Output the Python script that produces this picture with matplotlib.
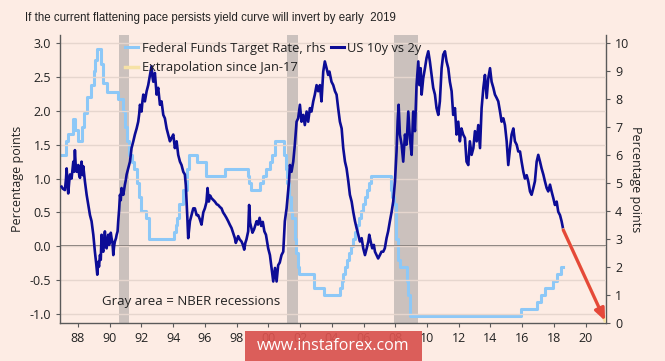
import matplotlib
matplotlib.use("Agg")
import matplotlib.pyplot as plt
from matplotlib.patches import Rectangle
from matplotlib.lines import Line2D

# US 10y vs 2y spread (percentage points)
spread_years = [1986.97, 1987.05, 1987.18, 1987.25, 1987.29, 1987.35, 1987.39, 1987.45, 1987.50, 1987.60,
                1987.71, 1987.76, 1987.81, 1987.86, 1987.92, 1988.02, 1988.08, 1988.13, 1988.18, 1988.23,
                1988.30, 1988.34, 1988.44, 1988.55, 1988.65, 1988.76, 1988.86, 1988.97, 1989.07, 1989.15,
                1989.22, 1989.28, 1989.33, 1989.39, 1989.44, 1989.49, 1989.55, 1989.60, 1989.65, 1989.70,
                1989.75, 1989.81, 1989.86, 1989.91, 1989.96, 1990.02, 1990.07, 1990.12, 1990.18, 1990.23,
                1990.28, 1990.33, 1990.40, 1990.44, 1990.50, 1990.54, 1990.60, 1990.65, 1990.70, 1990.75,
                1990.80, 1990.86, 1990.96, 1991.02, 1991.07, 1991.17, 1991.28, 1991.33, 1991.38, 1991.49,
                1991.59, 1991.70, 1991.80, 1991.86, 1991.91, 1992.01, 1992.07, 1992.12, 1992.22, 1992.33,
                1992.43, 1992.54, 1992.64, 1992.70, 1992.75, 1992.85, 1992.96, 1993.06, 1993.17, 1993.27,
                1993.38, 1993.48, 1993.59, 1993.69, 1993.80, 1993.90, 1994.01, 1994.11, 1994.22, 1994.32,
                1994.43, 1994.53, 1994.64, 1994.74, 1994.80, 1994.85, 1994.90, 1994.95, 1995.06, 1995.16,
                1995.27, 1995.37, 1995.48, 1995.58, 1995.68, 1995.79, 1995.90, 1996.00, 1996.10, 1996.17,
                1996.25, 1996.33, 1996.42, 1996.55, 1996.63, 1996.75, 1996.84, 1996.95, 1997.05, 1997.15,
                1997.26, 1997.36, 1997.47, 1997.57, 1997.68, 1997.78, 1997.89, 1997.95, 1998.00, 1998.10,
                1998.20, 1998.31, 1998.40, 1998.48, 1998.55, 1998.62, 1998.73, 1998.79, 1998.85, 1998.90,
                1999.00, 1999.10, 1999.26, 1999.35, 1999.45, 1999.55, 1999.65, 1999.75, 1999.85, 1999.99,
                2000.10, 2000.20, 2000.31, 2000.42, 2000.52, 2000.62, 2000.72, 2000.83, 2000.94, 2001.04,
                2001.15, 2001.25, 2001.30, 2001.36, 2001.46, 2001.57, 2001.67, 2001.78, 2001.88, 2001.99,
                2002.09, 2002.20, 2002.30, 2002.41, 2002.51, 2002.62, 2002.72, 2002.83, 2002.93, 2003.04,
                2003.14, 2003.25, 2003.35, 2003.46, 2003.56, 2003.67, 2003.77, 2003.85, 2003.98, 2004.09,
                2004.20, 2004.30, 2004.40, 2004.51, 2004.62, 2004.72, 2004.83, 2004.93, 2005.04, 2005.14,
                2005.25, 2005.35, 2005.46, 2005.56, 2005.67, 2005.77, 2005.88, 2005.98, 2006.09, 2006.20,
                2006.30, 2006.36, 2006.45, 2006.55, 2006.65, 2006.72, 2006.82, 2006.92, 2007.03, 2007.13,
                2007.24, 2007.34, 2007.45, 2007.55, 2007.66, 2007.77, 2007.87, 2007.98, 2008.08, 2008.15,
                2008.21, 2008.29, 2008.40, 2008.50, 2008.61, 2008.71, 2008.82, 2008.92, 2009.03, 2009.13,
                2009.24, 2009.34, 2009.45, 2009.52, 2009.60, 2009.66, 2009.76, 2009.87, 2009.97, 2010.08,
                2010.18, 2010.29, 2010.39, 2010.50, 2010.60, 2010.71, 2010.81, 2010.92, 2011.02, 2011.13,
                2011.23, 2011.34, 2011.44, 2011.55, 2011.65, 2011.76, 2011.86, 2011.97, 2012.07, 2012.17,
                2012.28, 2012.39, 2012.49, 2012.60, 2012.70, 2012.81, 2012.92, 2013.02, 2013.13, 2013.23,
                2013.34, 2013.44, 2013.55, 2013.65, 2013.76, 2013.86, 2013.97, 2014.07, 2014.18, 2014.28,
                2014.39, 2014.49, 2014.60, 2014.70, 2014.81, 2014.91, 2015.02, 2015.12, 2015.23, 2015.33,
                2015.44, 2015.54, 2015.65, 2015.75, 2015.86, 2015.96, 2016.07, 2016.17, 2016.28, 2016.38,
                2016.49, 2016.59, 2016.70, 2016.80, 2016.91, 2017.01, 2017.12, 2017.22, 2017.33, 2017.43,
                2017.54, 2017.64, 2017.75, 2017.85, 2017.96, 2018.06, 2018.17, 2018.27, 2018.38, 2018.48,
                2018.59]
spread_vals = [0.88, 0.85, 0.83, 1.00, 1.15, 0.90, 0.78, 0.95, 1.06, 1.00,
               1.25, 1.10, 1.42, 1.20, 1.10, 1.20, 1.05, 1.01, 1.15, 1.25,
               1.05, 1.18, 0.96, 0.76, 0.62, 0.46, 0.37, 0.17, -0.08, -0.25,
               -0.42, -0.23, -0.30, -0.13, -0.20, 0.17, -0.05, -0.08, 0.05, 0.22,
               0.00, -0.03, 0.10, 0.17, 0.02, 0.07, 0.20, 0.12, 0.05, -0.13,
               0.00, 0.07, 0.12, 0.17, 0.22, 0.37, 0.55, 0.76, 0.68, 0.86,
               0.80, 0.76, 0.91, 0.98, 1.06, 1.15, 1.25, 1.35, 1.45, 1.55,
               1.65, 1.74, 1.84, 1.95, 2.09, 1.99, 2.15, 2.24, 2.14, 2.29,
               2.38, 2.53, 2.66, 2.50, 2.43, 2.56, 2.24, 2.34, 2.09, 2.14,
               1.94, 1.89, 1.74, 1.65, 1.55, 1.60, 1.65, 1.45, 1.55, 1.35,
               1.25, 1.20, 1.10, 1.06, 0.90, 0.66, 0.40, 0.12, 0.37, 0.46,
               0.56, 0.56, 0.46, 0.46, 0.40, 0.32, 0.50, 0.56, 0.65, 0.86,
               0.66, 0.75, 0.71, 0.68, 0.66, 0.62, 0.61, 0.58, 0.56, 0.50,
               0.46, 0.42, 0.37, 0.32, 0.27, 0.20, 0.12, 0.05, 0.08, 0.15,
               0.10, 0.07, 0.02, -0.05, 0.05, 0.10, 0.22, 0.61, 0.35, 0.30,
               0.20, 0.25, 0.37, 0.32, 0.42, 0.30, 0.36, 0.22, 0.17, -0.03,
               -0.13, -0.32, -0.52, -0.32, -0.52, -0.28, -0.24, -0.13, -0.08, 0.37,
               0.56, 0.81, 0.95, 1.20, 1.10, 1.25, 1.50, 1.84, 1.89, 2.09,
               1.84, 1.94, 1.79, 1.99, 1.84, 2.04, 1.99, 2.14, 2.24, 2.38,
               2.29, 2.38, 2.14, 2.58, 2.73, 2.63, 2.53, 2.58, 2.43, 2.38,
               2.29, 2.24, 2.04, 1.84, 1.74, 1.45, 1.25, 1.15, 0.96, 0.76,
               0.66, 0.51, 0.37, 0.27, 0.17, 0.07, 0.12, -0.03, -0.13, -0.03,
               0.07, 0.17, 0.07, -0.03, 0.02, -0.08, -0.13, -0.18, -0.13, -0.08,
               -0.08, -0.03, 0.12, 0.22, 0.37, 0.51, 0.66, 0.96, 1.40, 1.85,
               2.09, 1.65, 1.50, 1.25, 1.65, 1.50, 1.99, 1.60, 1.35, 1.99,
               1.70, 2.38, 2.73, 2.38, 2.63, 2.24, 2.48, 2.63, 2.78, 2.88,
               2.73, 2.53, 2.34, 2.24, 2.04, 1.94, 2.14, 2.63, 2.83, 2.88,
               2.73, 2.63, 2.43, 2.29, 1.94, 2.04, 1.65, 1.84, 1.55, 1.74,
               1.65, 1.60, 1.25, 1.20, 1.55, 1.35, 1.45, 1.70, 1.55, 1.79,
               1.45, 2.04, 2.34, 2.53, 2.19, 2.48, 2.63, 2.43, 2.34, 2.24,
               2.19, 2.14, 1.99, 1.84, 1.89, 1.79, 1.55, 1.20, 1.45, 1.65,
               1.74, 1.55, 1.50, 1.40, 1.40, 1.25, 1.10, 1.00, 1.05, 0.96,
               0.81, 0.76, 0.86, 0.96, 1.25, 1.35, 1.25, 1.15, 1.06, 0.96,
               0.86, 0.81, 0.91, 0.81, 0.71, 0.61, 0.66, 0.51, 0.46, 0.37,
               0.24]

# Federal funds target rate (rhs), step changes
fed_years = [1987.0, 1987.25, 1987.4, 1987.7, 1987.8, 1988.0, 1988.25, 1988.4, 1988.55, 1988.85,
             1989.0, 1989.1, 1989.2, 1989.45, 1989.55, 1989.85, 1990.5, 1990.85, 1990.95, 1991.1,
             1991.25, 1991.4, 1991.55, 1991.7, 1991.85, 1992.0, 1992.3, 1992.5, 1994.05, 1994.15,
             1994.25, 1994.35, 1994.6, 1994.85, 1995.0, 1995.5, 1996.05, 1997.25, 1998.72, 1998.8,
             1998.88, 1999.5, 1999.65, 1999.85, 2000.1, 2000.2, 2000.4, 2001.0, 2001.1, 2001.2,
             2001.3, 2001.4, 2001.5, 2001.7, 2001.75, 2001.85, 2001.95, 2002.85, 2003.5, 2004.5,
             2004.62, 2004.7, 2004.85, 2004.95, 2005.1, 2005.2, 2005.35, 2005.45, 2005.6, 2005.7,
             2005.85, 2005.95, 2006.1, 2006.2, 2006.35, 2006.45, 2007.7, 2007.8, 2007.95, 2008.05,
             2008.2, 2008.3, 2008.75, 2008.8, 2008.95, 2015.95, 2016.95, 2017.2, 2017.45, 2017.95,
             2018.2, 2018.45, 2018.55]
fed_rate = [6.0, 6.5, 6.75, 7.3, 6.9, 6.5, 7.0, 7.5, 8.1, 8.5,
            9.0, 9.4, 9.8, 9.25, 8.6, 8.25, 8.0, 7.6, 7.0, 6.5,
            6.0, 5.75, 5.5, 5.0, 4.5, 4.0, 3.75, 3.0, 3.25, 3.5,
            3.75, 4.25, 4.75, 5.5, 6.0, 5.75, 5.25, 5.5, 5.25, 5.0,
            4.75, 5.0, 5.25, 5.5, 5.75, 6.0, 6.5, 6.0, 5.5, 5.0,
            4.5, 4.0, 3.75, 3.0, 2.5, 2.0, 1.75, 1.25, 1.0, 1.25,
            1.5, 1.75, 2.0, 2.25, 2.5, 2.75, 3.0, 3.25, 3.5, 3.75,
            4.0, 4.25, 4.5, 4.75, 5.0, 5.25, 4.75, 4.5, 4.25, 3.0,
            2.25, 2.0, 1.5, 1.0, 0.25, 0.5, 0.75, 1.0, 1.25, 1.5,
            1.75, 2.0, 2.0]

# NBER recessions
recessions = [(1990.6, 1991.2), (2001.17, 2001.84), (2007.93, 2009.43)]

# extrapolation arrow (start at last spread point)
extrap_x = [2018.59, 2021.22]
extrap_y = [0.24, -1.10]

xtick_years = list(range(1988, 2021, 2))
left_ticks = [-1.0, -0.5, 0.0, 0.5, 1.0, 1.5, 2.0, 2.5, 3.0]
right_ticks = list(range(0, 11))

bg = "#fdece4"
navy = "#0c0c96"
light = "#8dc8f7"
txt = "#222222"
spine_c = "#5a5a5a"

plt.rcParams['font.family'] = ['Open Sans', 'DejaVu Sans']

fig = plt.figure(figsize=(6.65, 3.61), dpi=100, facecolor=bg)
ax2 = fig.add_axes([0.0902, 0.1053, 0.8211, 0.7977])
ax = ax2.twinx()
# spread axis drawn on top of the fed funds axis
ax2.set_zorder(1)
ax.set_zorder(2)
ax.patch.set_visible(False)
ax2.patch.set_visible(False)

ax.yaxis.tick_left()
ax.yaxis.set_label_position("left")
ax2.yaxis.tick_right()
ax2.yaxis.set_label_position("right")

for a0, a1 in recessions:
    ax2.axvspan(a0, a1, color="#cbc1bd", zorder=0, lw=0)

ax2.plot(fed_years, fed_rate, drawstyle="steps-post", color=light, lw=2.2, zorder=2)
ax2.set_ylim(0, 10.3)
ax2.set_yticks(right_ticks)

ax.set_ylim(-1.133, 3.12)
ax.set_yticks(left_ticks)
ax.set_yticklabels([f"{v:.1f}" for v in left_ticks])
ax.grid(axis="y", color="#e6d6ce", lw=1.0, zorder=0)
ax.axhline(0, color="#7a7470", lw=1.4, zorder=1)

ax.plot(spread_years, spread_vals, color=navy, lw=1.9, zorder=3)
ax.plot(extrap_x, extrap_y, color="#f6e2a6", lw=2.5, zorder=3)
ax.annotate("", xy=(extrap_x[1], extrap_y[1]), xytext=(extrap_x[0], extrap_y[0]),
            arrowprops=dict(arrowstyle="-|>,head_length=0.7,head_width=0.3",
                            color="#e5483a", lw=2.3, shrinkA=0, shrinkB=0), zorder=4)

ax.set_xlim(1986.87, 2021.28)
ax.set_xticks(xtick_years)
ax.set_xticklabels([f"{y % 100:02d}" for y in xtick_years])

for a in (ax, ax2):
    a.spines["top"].set_visible(False)
    for s in a.spines.values():
        s.set_color(spine_c)
        s.set_linewidth(1.0)
    a.tick_params(colors=spine_c, labelcolor=txt, labelsize=9, length=3, width=0.8)
ax.spines["right"].set_visible(False)
ax2.spines["left"].set_visible(False)
ax2.spines["bottom"].set_visible(False)

ax.set_ylabel("Percentage points", fontsize=9, color=txt, labelpad=4)
ax2.set_ylabel("Percentage points", fontsize=9, color=txt, rotation=270, labelpad=0,
               va="bottom")

ax.text(1989.5, -0.82, "Gray area = NBER recessions", fontsize=9.5, color=txt,
        va="center", ha="left", zorder=5)

handles = [Line2D([], [], color=light, lw=2.2),
           Line2D([], [], color="#f6e2a6", lw=2.5),
           Line2D([], [], color=navy, lw=2.2)]
labels = ["Federal Funds Target Rate, rhs", "Extrapolation since Jan-17", "US 10y vs 2y"]
leg = ax.legend(handles, labels, ncol=2, loc="upper left", bbox_to_anchor=(0.11, 0.995),
                frameon=False, fontsize=9.3, handlelength=1.0, handletextpad=0.3,
                columnspacing=0.4, labelspacing=0.5, borderaxespad=0)
for t in leg.get_texts():
    t.set_color(txt)

fig.text(0.038, 0.951, "If the current flattening pace persists yield curve will invert by early  2019",
         fontsize=8.3, color=txt, va="center", ha="left",
         family=['Liberation Sans', 'DejaVu Sans'])

# watermark
fig.patches.append(Rectangle((0.368, 0.0), 0.266, 0.083, transform=fig.transFigure,
                             facecolor="#d9524e", alpha=0.92, edgecolor="none", zorder=10))
fig.text(0.501, 0.042, "www.instaforex.com", fontsize=11.5, color="white",
         ha="center", va="center", zorder=11)

fig.savefig("out.png", dpi=100, facecolor=bg)
